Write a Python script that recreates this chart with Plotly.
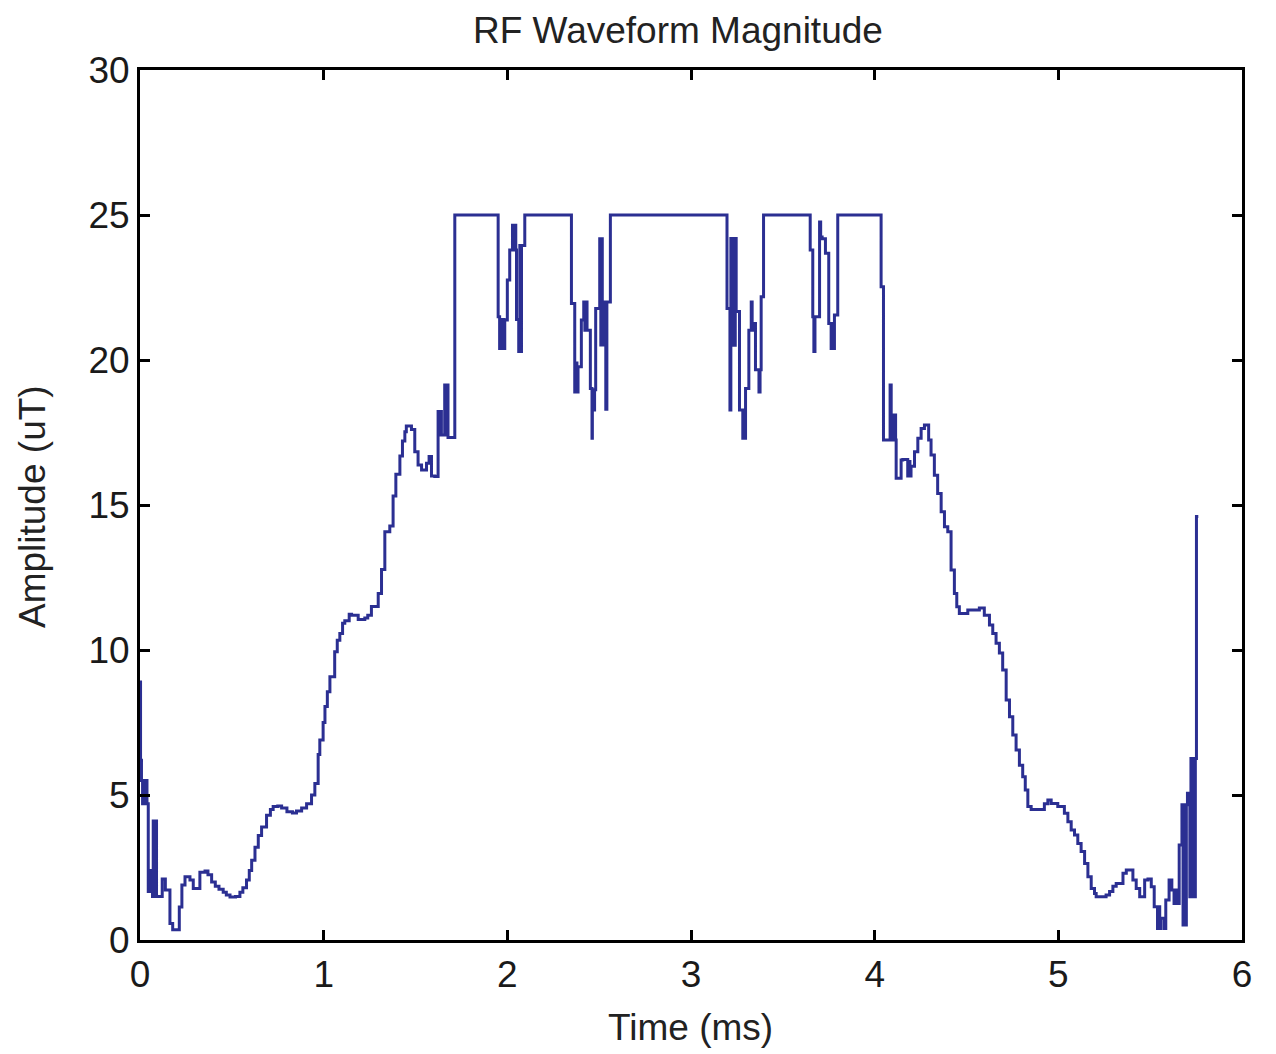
import plotly.graph_objects as go

# Step-wise RF waveform samples (value holds until next time point)
time_ms = [
    0.000, 0.003, 0.008, 0.014, 0.020, 0.026, 0.032, 0.038, 0.045, 0.051, 0.057, 0.063,
    0.068, 0.072, 0.078, 0.084, 0.090, 0.121, 0.138, 0.163, 0.178, 0.214, 0.228, 0.245,
    0.272, 0.290, 0.326, 0.354, 0.370, 0.390, 0.410, 0.430, 0.453, 0.470, 0.490, 0.520,
    0.544, 0.560, 0.580, 0.595, 0.608, 0.626, 0.644, 0.662, 0.689, 0.710, 0.725, 0.750,
    0.771, 0.800, 0.830, 0.852, 0.880, 0.907, 0.934, 0.952, 0.970, 0.979, 0.997, 1.007,
    1.020, 1.034, 1.060, 1.074, 1.088, 1.103, 1.115, 1.139, 1.152, 1.188, 1.224, 1.240,
    1.260, 1.297, 1.315, 1.333, 1.360, 1.378, 1.393, 1.415, 1.429, 1.442, 1.450, 1.478,
    1.496, 1.514, 1.533, 1.560, 1.574, 1.587, 1.605, 1.623, 1.629, 1.635, 1.641, 1.659,
    1.665, 1.671, 1.677, 1.714, 1.950, 1.958, 1.964, 1.970, 1.976, 1.982, 1.986, 2.000,
    2.013, 2.028, 2.034, 2.040, 2.046, 2.050, 2.062, 2.068, 2.074, 2.077, 2.095, 2.349,
    2.367, 2.373, 2.379, 2.385, 2.403, 2.416, 2.422, 2.428, 2.434, 2.452, 2.461, 2.463,
    2.469, 2.475, 2.481, 2.503, 2.509, 2.515, 2.517, 2.530, 2.536, 2.542, 2.548, 2.561,
    3.196, 3.212, 3.217, 3.223, 3.229, 3.235, 3.241, 3.246, 3.264, 3.282, 3.288, 3.294,
    3.297, 3.315, 3.328, 3.333, 3.337, 3.351, 3.370, 3.376, 3.382, 3.395, 3.649, 3.663,
    3.669, 3.675, 3.682, 3.700, 3.706, 3.714, 3.732, 3.750, 3.763, 3.769, 3.775, 3.781,
    3.799, 4.035, 4.048, 4.084, 4.090, 4.096, 4.102, 4.108, 4.114, 4.117, 4.144, 4.153,
    4.180, 4.186, 4.192, 4.198, 4.217, 4.235, 4.253, 4.271, 4.294, 4.307, 4.325, 4.343,
    4.362, 4.380, 4.398, 4.416, 4.434, 4.447, 4.461, 4.507, 4.570, 4.597, 4.625, 4.643,
    4.661, 4.679, 4.697, 4.716, 4.734, 4.752, 4.770, 4.788, 4.806, 4.820, 4.834, 4.852,
    4.924, 4.943, 4.961, 4.997, 5.033, 5.052, 5.070, 5.088, 5.106, 5.124, 5.143, 5.161,
    5.179, 5.197, 5.206, 5.260, 5.279, 5.297, 5.315, 5.352, 5.370, 5.406, 5.424, 5.443,
    5.470, 5.488, 5.506, 5.522, 5.540, 5.546, 5.552, 5.558, 5.576, 5.585, 5.603, 5.618,
    5.630, 5.636, 5.642, 5.648, 5.654, 5.658, 5.673, 5.679, 5.685, 5.691, 5.697, 5.703,
    5.716, 5.722, 5.728, 5.734, 5.740, 5.746, 5.752, 5.762,
]

amplitude_uT = [
    8.90, 6.20, 5.50, 4.70, 5.50, 4.70, 5.50, 4.70, 1.67, 2.40, 1.67, 2.40,
    1.50, 4.10, 1.50, 4.10, 1.50, 2.10, 1.72, 0.57, 0.35, 1.14, 1.90, 2.18,
    2.07, 1.78, 2.34, 2.38, 2.25, 2.00, 1.85, 1.75, 1.65, 1.55, 1.48, 1.50,
    1.65, 1.80, 2.07, 2.40, 2.75, 3.20, 3.60, 3.90, 4.30, 4.50, 4.60, 4.62,
    4.55, 4.42, 4.38, 4.45, 4.55, 4.70, 5.00, 5.40, 6.40, 6.90, 7.50, 8.05,
    8.56, 9.08, 9.94, 10.34, 10.57, 10.92, 11.01, 11.23, 11.20, 11.05, 11.10, 11.20,
    11.50, 11.95, 12.78, 14.08, 14.28, 15.31, 16.06, 16.69, 17.21, 17.53, 17.72, 17.60,
    16.84, 16.38, 16.21, 16.44, 16.67, 16.00, 15.98, 18.22, 17.41, 18.22, 17.41, 19.14,
    17.41, 19.14, 17.33, 25.00, 21.49, 20.40, 21.40, 20.40, 21.40, 20.40, 21.38, 22.76,
    23.79, 24.65, 23.79, 24.65, 23.79, 21.40, 20.29, 23.95, 20.29, 23.95, 25.00, 21.95,
    18.90, 19.90, 18.90, 19.77, 21.38, 22.00, 21.03, 22.00, 21.03, 19.02, 17.30, 18.97,
    18.28, 18.97, 21.78, 24.18, 20.52, 24.18, 20.52, 22.00, 18.30, 22.00, 22.00, 25.00,
    21.78, 18.28, 24.19, 20.51, 24.19, 20.51, 24.19, 21.67, 18.28, 17.30, 18.28, 17.30,
    19.02, 21.03, 22.00, 21.03, 21.26, 19.66, 18.90, 19.66, 22.18, 25.00, 23.79, 21.49,
    20.29, 21.49, 21.49, 24.76, 24.24, 24.18, 23.68, 21.26, 20.40, 21.26, 20.40, 21.55,
    25.00, 22.53, 17.24, 19.14, 17.24, 18.10, 17.24, 18.10, 17.24, 15.92, 16.55, 16.57,
    16.00, 16.50, 16.00, 16.34, 16.84, 17.30, 17.64, 17.76, 17.24, 16.72, 16.03, 15.40,
    14.77, 14.25, 14.08, 12.76, 11.95, 11.49, 11.26, 11.38, 11.45, 11.20, 10.86, 10.57,
    10.23, 9.90, 9.31, 8.28, 7.70, 7.07, 6.55, 6.03, 5.63, 5.17, 4.60, 4.50,
    4.70, 4.83, 4.71, 4.60, 4.37, 4.08, 3.79, 3.62, 3.33, 3.05, 2.64, 2.18,
    1.78, 1.60, 1.49, 1.55, 1.67, 1.85, 1.95, 2.30, 2.41, 2.07, 1.78, 1.49,
    2.07, 2.10, 1.84, 1.15, 0.40, 1.15, 0.40, 0.75, 0.40, 1.38, 2.07, 1.72,
    1.26, 1.72, 1.26, 1.72, 1.26, 3.28, 4.66, 0.52, 4.66, 0.52, 4.66, 5.06,
    1.49, 6.26, 1.49, 6.26, 1.49, 6.26, 14.60, 14.60,
]

x_ticks = [0, 1, 2, 3, 4, 5, 6]
y_ticks = [0, 5, 10, 15, 20, 25, 30]

FONT = "Liberation Sans, Arial, Helvetica, sans-serif"

fig = go.Figure()
fig.add_trace(go.Scatter(
    x=time_ms, y=amplitude_uT, mode="lines",
    line=dict(color="#2b2f92", width=3, shape="hv"),
    showlegend=False, hoverinfo="x+y",
))

axis_common = dict(
    showline=True, linecolor="black", linewidth=3, mirror="ticks",
    ticks="inside", ticklen=10, tickwidth=2.5, tickcolor="black",
    showgrid=False, zeroline=False,
    tickfont=dict(family=FONT, size=37, color="#1a1a1a"),
)

fig.update_xaxes(range=[0, 6], tickvals=x_ticks, ticktext=[str(v) for v in x_ticks], **axis_common)
fig.update_yaxes(range=[0, 30], tickvals=y_ticks, ticktext=[str(v) for v in y_ticks], **axis_common)

fig.update_layout(
    width=1276, height=1054,
    margin=dict(l=140, r=34, t=70, b=114),
    paper_bgcolor="white", plot_bgcolor="white",
    font=dict(family=FONT, size=37, color="black"),
    annotations=[
        dict(text="RF Waveform Magnitude", xref="paper", yref="paper",
             x=0.488, y=1.0 + 40 / 870, xanchor="center", yanchor="middle",
             showarrow=False, font=dict(family=FONT, size=37, color="#222")),
        dict(text="Time (ms)", xref="paper", yref="paper",
             x=0.4995, y=-87 / 870, xanchor="center", yanchor="middle",
             showarrow=False, font=dict(family=FONT, size=37, color="#222")),
        dict(text="Amplitude (uT)", xref="paper", yref="paper",
             x=-108 / 1102, y=0.4977, xanchor="center", yanchor="middle",
             textangle=-90, showarrow=False, font=dict(family=FONT, size=37, color="#222")),
    ],
)

fig.write_html("out.html")
